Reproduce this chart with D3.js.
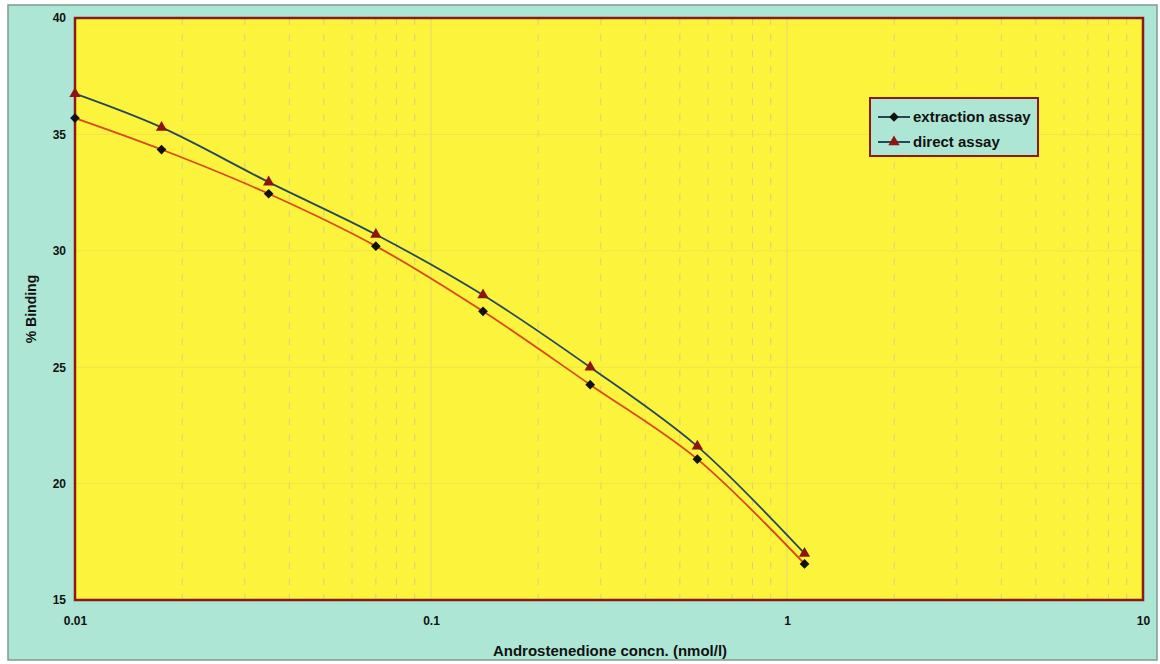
<!DOCTYPE html>
<html>
<head>
<meta charset="utf-8">
<script src="https://cdn.jsdelivr.net/npm/d3@7"></script>
<style>
  body { margin: 0; background: #fff; }
  text { font-family: "Liberation Sans", Arial, sans-serif; font-weight: bold; fill: #111; }
</style>
</head>
<body>
<script>
var width = 1160;
var height = 664;

// data
var concn = [0.01, 0.0175, 0.035, 0.07, 0.14, 0.28, 0.56, 1.12];
var extraction = [35.7, 34.35, 32.45, 30.2, 27.4, 24.25, 21.05, 16.55];
var direct = [36.75, 35.3, 32.95, 30.7, 28.1, 25.0, 21.6, 17.0];
var seriesNames = ["extraction assay", "direct assay"];
var xTicks = [0.01, 0.1, 1, 10];
var yTicks = [15, 20, 25, 30, 35, 40];

var margin = {left: 75, right: 17, top: 18, bottom: 64};

var svg = d3.select("body").append("svg")
  .attr("width", width)
  .attr("height", height);

// outer panel
svg.append("rect")
  .attr("x", 8).attr("y", 5)
  .attr("width", 1149).attr("height", 655)
  .style("fill", "#aee6d6")
  .style("stroke", "#7f9a94")
  .style("stroke-width", 1.5);

var x = d3.scaleLog()
  .domain([0.01, 10])
  .range([margin.left, width - margin.right]);

var y = d3.scaleLinear()
  .domain([15, 40])
  .range([height - margin.bottom, margin.top]);

// plot background
svg.append("rect")
  .attr("x", x(0.01)).attr("y", y(40))
  .attr("width", x(10) - x(0.01))
  .attr("height", y(15) - y(40))
  .style("fill", "#fcf43c");

// minor grid (dashed)
var minor = [];
[0.01, 0.1, 1].forEach(function (d) {
  for (var k = 2; k <= 9; k++) minor.push(d * k);
});
svg.append("g").selectAll("line")
  .data(minor)
  .enter().append("line")
  .attr("x1", function (d) { return x(d); })
  .attr("x2", function (d) { return x(d); })
  .attr("y1", y(40)).attr("y2", y(15))
  .style("stroke", "#d6d07e")
  .style("stroke-width", 1)
  .style("stroke-dasharray", "7,9");

// major grid
svg.append("g").selectAll("line")
  .data([0.1, 1])
  .enter().append("line")
  .attr("x1", function (d) { return x(d); })
  .attr("x2", function (d) { return x(d); })
  .attr("y1", y(40)).attr("y2", y(15))
  .style("stroke", "#e0d870")
  .style("stroke-width", 1);

svg.append("g").selectAll("line")
  .data([20, 25, 30, 35])
  .enter().append("line")
  .attr("x1", x(0.01)).attr("x2", x(10))
  .attr("y1", function (d) { return y(d); })
  .attr("y2", function (d) { return y(d); })
  .style("stroke", "#ede448")
  .style("stroke-width", 1);

// plot border
svg.append("rect")
  .attr("x", x(0.01)).attr("y", y(40))
  .attr("width", x(10) - x(0.01))
  .attr("height", y(15) - y(40))
  .style("fill", "none")
  .style("stroke", "#8a1a12")
  .style("stroke-width", 2.5);

// axes
var xAxis = d3.axisBottom(x)
  .tickValues(xTicks)
  .tickFormat(function (d) { return String(d); })
  .tickSize(0).tickPadding(16);
var gx = svg.append("g")
  .attr("transform", "translate(0," + y(15) + ")")
  .call(xAxis);
gx.select(".domain").remove();
gx.selectAll("text").style("font-size", "12px").style("font-family", "Liberation Sans, Arial").style("font-weight", "bold");

var yAxis = d3.axisLeft(y)
  .tickValues(yTicks)
  .tickSize(0).tickPadding(9);
var gy = svg.append("g")
  .attr("transform", "translate(" + x(0.01) + ",0)")
  .call(yAxis);
gy.select(".domain").remove();
gy.selectAll("text").style("font-size", "12px").style("font-family", "Liberation Sans, Arial").style("font-weight", "bold");

svg.append("text")
  .attr("x", 610).attr("y", 656)
  .attr("text-anchor", "middle")
  .style("font-size", "15px")
  .text("Androstenedione concn. (nmol/l)");

svg.append("text")
  .attr("transform", "translate(36," + (y(27.5)) + ") rotate(-90)")
  .attr("text-anchor", "middle")
  .style("font-size", "14px")
  .text("% Binding");

// series
var line = d3.line()
  .x(function (d) { return x(d[0]); })
  .y(function (d) { return y(d[1]); })
  .curve(d3.curveCatmullRom.alpha(0.5));

var extData = concn.map(function (c, i) { return [c, extraction[i]]; });
var dirData = concn.map(function (c, i) { return [c, direct[i]]; });

var colors = {ext: "#d8481a", dir: "#27485a"};

svg.append("path")
  .datum(extData)
  .attr("d", line)
  .style("fill", "none")
  .style("stroke", colors.ext)
  .style("stroke-width", 1.8);

svg.append("path")
  .datum(dirData)
  .attr("d", line)
  .style("fill", "none")
  .style("stroke", colors.dir)
  .style("stroke-width", 1.8);

var diamond = d3.symbol().type(d3.symbolDiamond2).size(60);
var triangle = d3.symbol().type(d3.symbolTriangle).size(55);

svg.append("g").selectAll("path")
  .data(extData)
  .enter().append("path")
  .attr("d", diamond)
  .attr("transform", function (d) { return "translate(" + x(d[0]) + "," + y(d[1]) + ")"; })
  .style("fill", "#111");

svg.append("g").selectAll("path")
  .data(dirData)
  .enter().append("path")
  .attr("d", triangle)
  .attr("transform", function (d) { return "translate(" + x(d[0]) + "," + y(d[1]) + ")"; })
  .style("fill", "#8e1414");

// legend
var lg = svg.append("g").attr("transform", "translate(870,98)");
lg.append("rect")
  .attr("width", 168).attr("height", 58)
  .style("fill", "#aee6d6")
  .style("stroke", "#8a1a12")
  .style("stroke-width", 2);

var legendItems = lg.selectAll(".item")
  .data(seriesNames)
  .enter().append("g")
  .attr("class", "item")
  .attr("transform", function (d, i) { return "translate(0," + (19 + i * 25) + ")"; });

legendItems.append("line")
  .attr("x1", 8).attr("x2", 40)
  .style("stroke", colors.dir)
  .style("stroke-width", 2);

legendItems.append("path")
  .attr("d", function (d, i) { return i == 0 ? diamond() : triangle(); })
  .attr("transform", "translate(24,0)")
  .style("fill", function (d, i) { return i == 0 ? "#111" : "#8e1414"; });

legendItems.append("text")
  .attr("x", 43).attr("y", 5)
  .style("font-size", "15px")
  .text(function (d) { return d; });
</script>
</body>
</html>
